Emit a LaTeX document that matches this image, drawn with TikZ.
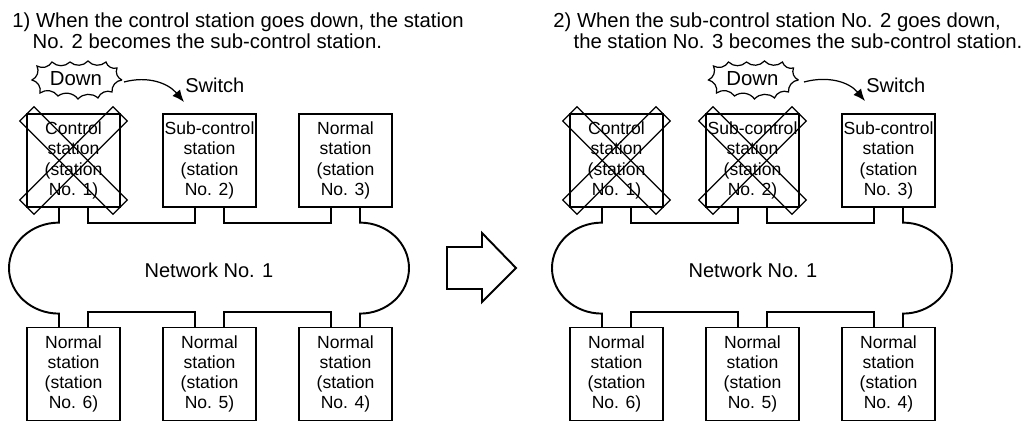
\documentclass[tikz,border=0pt]{standalone}
\usepackage{fontspec}
\setmainfont{Liberation Sans}
\usetikzlibrary{calc,arrows.meta}

\begin{document}
\begin{tikzpicture}[x=0.2mm, y=-0.2mm,
    every node/.style={font=\fontsize{11.4pt}{12pt}\selectfont, inner sep=0pt},
    station/.style={draw, line width=0.7pt, minimum size=18.6mm, align=center,
        font=\fontsize{10pt}{11.55pt}\selectfont, execute at begin node={\rule{0pt}{10.6pt}}},
    xbar/.style={draw, line width=0.7pt, minimum width=26.4mm, minimum height=4mm},
    net/.style={line width=1.1pt},
    burst/.style={line width=0.7pt},
    switcharrow/.style={line width=0.7pt, -{Latex[length=2.4mm, width=2mm]}},
    hollowarrow/.style={line width=1.1pt, line join=miter}]
    \useasboundingbox (0,0) rectangle (1034,421);

    % titles
    \node[anchor=north west, align=left, font=\fontsize{11.55pt}{12pt}\selectfont] (title1) at (12,12) {1) When the control station goes down, the station\\\hspace*{1em}No. 2 becomes the sub-control station.};
    \node[anchor=north west, align=left, font=\fontsize{11.55pt}{12pt}\selectfont] (title2) at (553,12) {2) When the sub-control station No. 2 goes down,\\\hspace*{1em}the station No. 3 becomes the sub-control station.};

    % stations, left
    \node[station] (l1) at (73.5,160.5) {Control\\station\\(station\\No. 1)};
    \node[station] (l2) at (209.5,160.5) {Sub-control\\station\\(station\\No. 2)};
    \node[station] (l3) at (345.5,160.5) {Normal\\station\\(station\\No. 3)};
    \node[station] (l6) at (73.5,374) {Normal\\station\\(station\\No. 6)};
    \node[station] (l5) at (209.5,374) {Normal\\station\\(station\\No. 5)};
    \node[station] (l4) at (345.5,374) {Normal\\station\\(station\\No. 4)};

    % stations, right
    \node[station] (r1) at (616.5,160.5) {Control\\station\\(station\\No. 1)};
    \node[station] (r2) at (752.5,160.5) {Sub-control\\station\\(station\\No. 2)};
    \node[station] (r3) at (888.5,160.5) {Sub-control\\station\\(station\\No. 3)};
    \node[station] (r6) at (616.5,374) {Normal\\station\\(station\\No. 6)};
    \node[station] (r5) at (752.5,374) {Normal\\station\\(station\\No. 5)};
    \node[station] (r4) at (888.5,374) {Normal\\station\\(station\\No. 4)};

    % networks
    \node (netl) at (209,270) {Network No. 1};
    \node (netr) at (753,270) {Network No. 1};

    \draw[net] ($(l1.south)+(-14.5,0)$) -- ++(0,15) arc[start angle=270, end angle=90, x radius=50, y radius=45.5] -- ($(l6.north)+(-14.5,0)$);
    \draw[net] ($(l1.south)+(14.5,0)$) -- ++(0,15) -| ($(l2.south)+(-14.5,0)$);
    \draw[net] ($(l2.south)+(14.5,0)$) -- ++(0,15) -| ($(l3.south)+(-14.5,0)$);
    \draw[net] ($(l3.south)+(14.5,0)$) -- ++(0,15) arc[start angle=270, end angle=450, x radius=49, y radius=45.5] -- ($(l4.north)+(14.5,0)$);
    \draw[net] ($(l6.north)+(14.5,0)$) -- ++(0,-15) -| ($(l5.north)+(-14.5,0)$);
    \draw[net] ($(l5.north)+(14.5,0)$) -- ++(0,-15) -| ($(l4.north)+(-14.5,0)$);

    \draw[net] ($(r1.south)+(-14.5,0)$) -- ++(0,15) arc[start angle=270, end angle=90, x radius=50, y radius=45.5] -- ($(r6.north)+(-14.5,0)$);
    \draw[net] ($(r1.south)+(14.5,0)$) -- ++(0,15) -| ($(r2.south)+(-14.5,0)$);
    \draw[net] ($(r2.south)+(14.5,0)$) -- ++(0,15) -| ($(r3.south)+(-14.5,0)$);
    \draw[net] ($(r3.south)+(14.5,0)$) -- ++(0,15) arc[start angle=270, end angle=450, x radius=49, y radius=45.5] -- ($(r4.north)+(14.5,0)$);
    \draw[net] ($(r6.north)+(14.5,0)$) -- ++(0,-15) -| ($(r5.north)+(-14.5,0)$);
    \draw[net] ($(r5.north)+(14.5,0)$) -- ++(0,-15) -| ($(r4.north)+(-14.5,0)$);

    % crosses over the stations that went down
    \node[xbar, rotate=45] at (l1) {};
    \node[xbar, rotate=-45] at (l1) {};
    \node[xbar, rotate=45] at (r1) {};
    \node[xbar, rotate=-45] at (r1) {};
    \node[xbar, rotate=45] at (r2) {};
    \node[xbar, rotate=-45] at (r2) {};

    % down bursts
    \node[font=\fontsize{11.6pt}{12pt}\selectfont] (downl) at (76,79) {Down};
    \node[font=\fontsize{11.6pt}{12pt}\selectfont] (downr) at (752.5,79) {Down};
    \draw[burst] ($(downl)+(46,1)$) \foreach \dx/\dy in {36/13,22/19,2/20,-18/17,-36/14,-44/1,-39/-13,-24/-17,-6/-17,12/-18,30/-17,41/-11,46/1} { to[bend right=45] ($(downl)+(\dx,\dy)$) };
    \draw[burst] ($(downr)+(46,1)$) \foreach \dx/\dy in {36/13,22/19,2/20,-18/17,-36/14,-44/1,-39/-13,-24/-17,-6/-17,12/-18,30/-17,41/-11,46/1} { to[bend right=45] ($(downr)+(\dx,\dy)$) };

    % switch arrows
    \node[anchor=west] (swl) at (185,85) {Switch};
    \node[anchor=west] (swr) at (866,85) {Switch};
    \coordinate (sl) at (124,82);
    \coordinate (tl) at (184,102);
    \coordinate (sr) at (804,82);
    \coordinate (tr) at (865,101);
    \draw[switcharrow] (sl) to[out=15, in=130] (tl);
    \draw[switcharrow] (sr) to[out=15, in=130] (tr);

    % hollow arrow between the two cases
    \draw[hollowarrow] (447,247) -- (482,247) -- (482,233) -- (516,268) -- (482,302) -- (482,289) -- (447,289) -- cycle;
\end{tikzpicture}
\end{document}
